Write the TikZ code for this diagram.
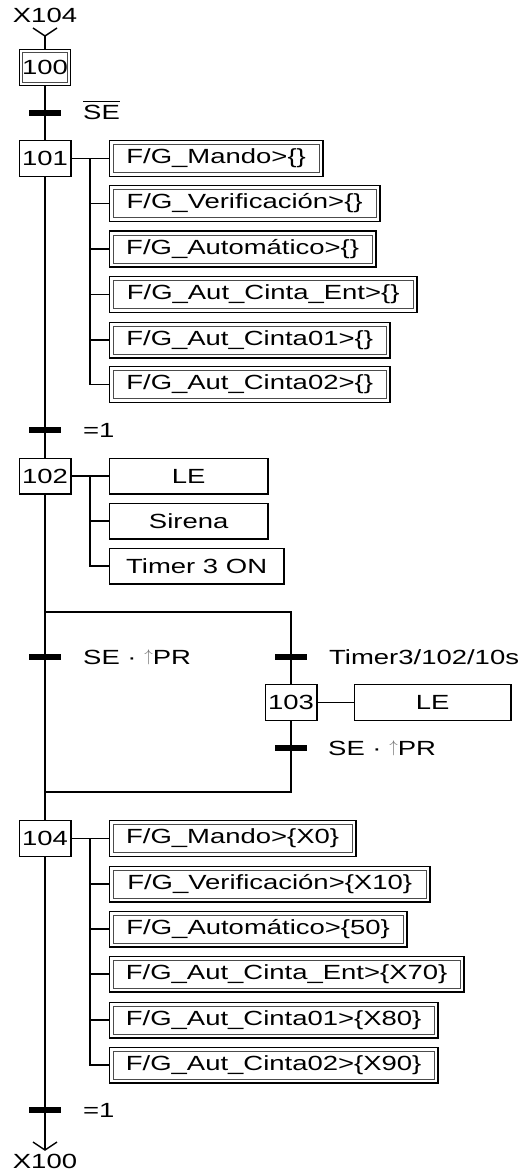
\documentclass[tikz,border=0pt]{standalone}
\usepackage{fontspec}
\setmainfont{Liberation Sans}[FakeStretch=1.34]
\newcommand{\uparr}{{\color{black!55}\raisebox{3pt}{\scalebox{0.82}{$\uparrow$}}}}
\begin{document}
\begin{tikzpicture}[x=1pt,y=-1pt,
  every node/.style={font=\fontsize{20.5}{24}\selectfont},
  ln/.style={line width=1.4pt},
  stepbox/.style={draw, line width=1.3pt, minimum width=51.7pt, minimum height=35.7pt, inner sep=0pt},
  initbox/.style={draw, line width=1.3pt, minimum width=50.7pt, minimum height=35.7pt, inner sep=0pt},
  actbox/.style={draw, line width=1.3pt, minimum height=35.7pt, inner sep=0pt, anchor=west},
  dactbox/.style={draw, line width=1.3pt, minimum height=35.7pt, inner sep=0pt, anchor=west},
  innerline/.style={draw=black!70, line width=0.8pt},
  trbar/.style={fill=black, minimum width=32pt, minimum height=6.5pt, inner sep=0pt},
  cond/.style={anchor=base west, inner sep=0pt},
  lnk/.style={anchor=base, inner sep=0pt}
]
\useasboundingbox (0,0) rectangle (529,1174);

% top link
\node[lnk] (x104) at (45,23) {X104};
\coordinate (inT) at (45,36);

% steps
\node[initbox] (s100) at (45,67.5) {100};
\node[stepbox] (s101) at (45,158.5) {101};
\node[stepbox] (s102) at (45,476) {102};
\node[stepbox] (s103) at (291,702.5) {103};
\node[stepbox] (s104) at (45,838.5) {104};
\draw[innerline] ([shift={(3.2pt,3.2pt)}]s100.south west) rectangle ([shift={(-3.2pt,-3.2pt)}]s100.north east);

% actions step 101
\node[dactbox, minimum width=213.7pt] (a1) at (108.65,158.5) {F/G\_Mando>\{\}};
\node[dactbox, minimum width=270.7pt] (a2) at (108.65,203.5) {F/G\_Verificación>\{\}};
\node[dactbox, minimum width=266.7pt] (a3) at (108.65,249) {F/G\_Automático>\{\}};
\node[dactbox, minimum width=307.7pt] (a4) at (108.65,294.5) {F/G\_Aut\_Cinta\_Ent>\{\}};
\node[dactbox, minimum width=280.7pt] (a5) at (108.65,340) {F/G\_Aut\_Cinta01>\{\}};
\node[dactbox, minimum width=280.7pt] (a6) at (108.65,384.5) {F/G\_Aut\_Cinta02>\{\}};

% actions step 102
\node[actbox, minimum width=158.7pt] (l1) at (108.65,476) {LE};
\node[actbox, minimum width=158.7pt] (l2) at (108.65,521) {Sirena};
\node[actbox, minimum width=174.7pt] (l3) at (108.65,566) {Timer 3 ON};

% action step 103
\node[actbox, minimum width=156.7pt] (a103) at (353.65,702.5) {LE};

% actions step 104
\node[dactbox, minimum width=246.7pt] (d1) at (108.65,838.5) {F/G\_Mando>\{X0\}};
\node[dactbox, minimum width=320.7pt] (d2) at (108.65,884) {F/G\_Verificación>\{X10\}};
\node[dactbox, minimum width=297.7pt] (d3) at (108.65,929) {F/G\_Automático>\{50\}};
\node[dactbox, minimum width=354.7pt] (d4) at (108.65,974) {F/G\_Aut\_Cinta\_Ent>\{X70\}};
\node[dactbox, minimum width=328.7pt] (d5) at (108.65,1020) {F/G\_Aut\_Cinta01>\{X80\}};
\node[dactbox, minimum width=328.7pt] (d6) at (108.65,1065) {F/G\_Aut\_Cinta02>\{X90\}};

% inner borders of the double action boxes
\foreach \n in {a1,a2,a3,a4,a5,a6,d1,d2,d3,d4,d5,d6}
  \draw[innerline] ([shift={(4.6pt,4.6pt)}]\n.south west) rectangle ([shift={(-4.6pt,-4.6pt)}]\n.north east);

% coordinates
\coordinate (b101) at (90,158.5);
\coordinate (b102) at (90,476);
\coordinate (b104) at (90,838.5);
\coordinate (dL) at (45,612);
\coordinate (dR) at (291,612);
\coordinate (cL) at (45,792);
\coordinate (cR) at (291,792);
\coordinate (outB) at (45,1150);

% main line
\draw[ln] (inT) ++(-12,-8) -- (inT) -- ++(12,-8);
\draw[ln] (inT) -- (s100.north);
\draw[ln] (s100.south) -- (s101.north);
\draw[ln] (s101.south) -- (s102.north);
\draw[ln] (s102.south) -- (s104.north);
\draw[ln] (s104.south) -- (outB);
\draw[ln] (outB) ++(-12,-8) -- (outB) -- ++(12,-8);

% divergence / convergence
\draw[ln] (dL) -- (dR) -- (s103.north);
\draw[ln] (s103.south) -- (cR) -- (cL);
\draw[ln] (s103.east) -- (a103.west);

% action links
\draw[ln] (s101.east) -- (a1.west);
\draw[ln] (b101) |- (a6.west);
\foreach \n in {a2,a3,a4,a5} \draw[ln] (b101 |- \n.west) -- (\n.west);
\draw[ln] (s102.east) -- (l1.west);
\draw[ln] (b102) |- (l3.west);
\draw[ln] (b102 |- l2.west) -- (l2.west);
\draw[ln] (s104.east) -- (d1.west);
\draw[ln] (b104) |- (d6.west);
\foreach \n in {d2,d3,d4,d5} \draw[ln] (b104 |- \n.west) -- (\n.west);

% transitions
\node[trbar] (t1) at (45,113) {};
\node[trbar] (t2) at (45,430) {};
\node[trbar] (t3) at (45,657) {};
\node[trbar] (t4) at (291,657) {};
\node[trbar] (t5) at (291,748) {};
\node[trbar] (t6) at (45,1110) {};

\node[cond] (c1) at (83,120) {SE};
\draw[line width=1.2pt] ([yshift=4pt]c1.north west) -- ([yshift=4pt]c1.north east);
\node[cond] (c2) at (83,437) {=1};
\node[cond] (c3) at (83,664) {SE · \uparr PR};
\node[cond] (c4) at (329,664) {Timer3/102/10s};
\node[cond] (c5) at (328,755) {SE · \uparr PR};
\node[cond] (c6) at (83,1117) {=1};

% bottom link
\node[lnk] (x100) at (45,1168) {X100};
\end{tikzpicture}
\end{document}
